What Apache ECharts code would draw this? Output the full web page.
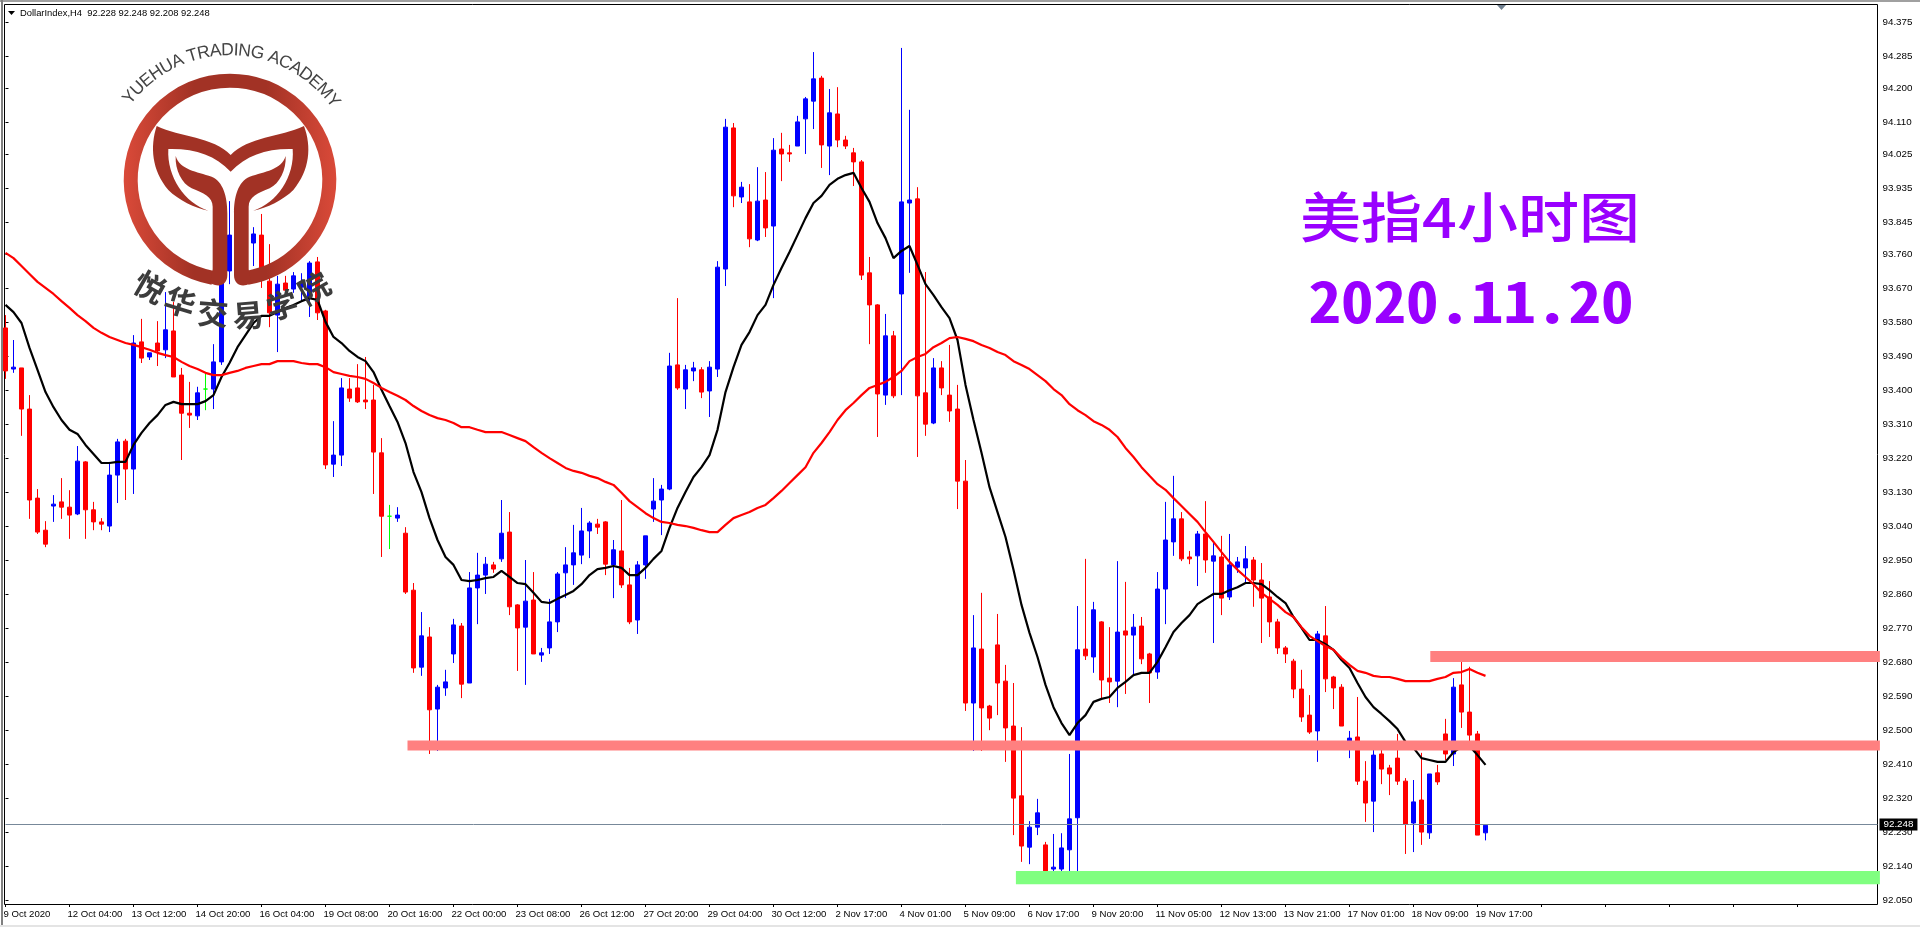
<!DOCTYPE html>
<html>
<head>
<meta charset="utf-8">
<title>DollarIndex H4</title>
<style>
html, body { margin: 0; padding: 0; background: #fff; }
#main { width: 1920px; height: 927px; }
</style>
<script src="https://cdn.jsdelivr.net/npm/echarts@6/dist/echarts.min.js"></script>
</head>
<body>
<div id="main"></div>
<script>
var tickLabels = ["9 Oct 2020", "12 Oct 04:00", "13 Oct 12:00", "14 Oct 20:00", "16 Oct 04:00", "19 Oct 08:00",
    "20 Oct 16:00", "22 Oct 00:00", "23 Oct 08:00", "26 Oct 12:00", "27 Oct 20:00", "29 Oct 04:00",
    "30 Oct 12:00", "2 Nov 17:00", "4 Nov 01:00", "5 Nov 09:00", "6 Nov 17:00", "9 Nov 20:00",
    "11 Nov 05:00", "12 Nov 13:00", "13 Nov 21:00", "17 Nov 01:00", "18 Nov 09:00", "19 Nov 17:00"];
var priceTicks = [94.375, 94.285, 94.200, 94.110, 94.025, 93.935, 93.845, 93.760, 93.670, 93.580, 93.490, 93.400,
    93.310, 93.220, 93.130, 93.040, 92.950, 92.860, 92.770, 92.680, 92.590, 92.500, 92.410, 92.320, 92.230,
    92.140, 92.050];

var opens = [93.566,93.457,93.460,93.351,93.115,93.030,93.094,93.105,93.091,93.073,
    93.211,93.084,93.052,93.041,93.176,93.266,93.192,93.529,93.489,93.526,
    93.508,93.558,93.441,93.340,93.333,93.404,93.404,93.476,93.717,93.812,
    93.757,93.791,93.812,93.690,93.600,93.685,93.669,93.674,93.645,93.741,
    93.611,93.205,93.229,93.404,93.407,93.375,93.375,93.235,93.067,93.062,
    93.022,92.871,92.667,92.747,92.556,92.612,92.702,92.776,92.625,92.877,
    92.911,92.938,92.954,93.025,92.832,92.773,92.845,92.699,92.718,92.787,
    92.917,92.938,92.964,93.028,93.046,93.052,92.938,92.975,92.885,92.792,
    92.938,93.086,93.110,93.139,93.468,93.404,93.452,93.455,93.399,93.457,
    93.722,94.096,93.913,93.900,93.799,93.905,93.836,94.040,94.030,94.048,
    94.120,94.167,94.228,94.048,94.133,94.064,94.030,94.006,93.712,93.627,
    93.388,93.545,93.656,93.897,93.908,93.394,93.314,93.460,93.388,93.351,
    93.160,92.572,92.715,92.564,92.726,92.630,92.511,92.326,92.190,92.243,
    92.196,92.132,92.132,92.183,92.268,92.715,92.694,92.787,92.638,92.630,
    92.763,92.752,92.776,92.702,92.654,92.874,92.999,93.060,92.959,92.962,
    93.020,92.948,92.959,92.853,92.932,92.930,92.951,92.898,92.853,92.787,
    92.718,92.683,92.609,92.540,92.498,92.750,92.641,92.614,92.450,92.482,
    92.365,92.312,92.437,92.400,92.426,92.365,92.254,92.315,92.228,92.387,
    92.490,92.437,92.620,92.548,92.490,92.228];
var closes = [93.452,93.462,93.351,93.110,93.025,92.993,93.099,93.091,93.070,93.213,
    93.084,93.052,93.046,93.176,93.264,93.192,93.526,93.486,93.500,93.505,
    93.561,93.436,93.340,93.335,93.394,93.404,93.476,93.714,93.812,93.772,
    93.804,93.815,93.698,93.606,93.682,93.666,93.704,93.688,93.738,93.606,
    93.203,93.229,93.407,93.380,93.370,93.370,93.237,93.067,93.067,93.070,
    92.866,92.665,92.750,92.554,92.614,92.628,92.779,92.622,92.877,92.911,
    92.940,92.927,93.022,92.827,92.771,92.842,92.702,92.705,92.787,92.914,
    92.938,92.970,93.028,93.049,93.038,92.940,92.978,92.885,92.787,92.938,
    93.015,93.107,93.139,93.465,93.407,93.455,93.460,93.396,93.462,93.727,
    94.098,93.916,93.939,93.802,93.902,93.831,94.037,94.027,94.027,94.112,
    94.173,94.226,94.051,94.136,94.064,94.048,94.006,93.706,93.627,93.391,
    93.545,93.386,93.900,93.905,93.386,93.311,93.460,93.407,93.346,93.160,
    92.572,92.718,92.559,92.532,92.625,92.506,92.320,92.193,92.243,92.281,
    92.127,92.137,92.188,92.265,92.713,92.697,92.819,92.633,92.628,92.760,
    92.752,92.773,92.689,92.652,92.874,93.004,93.060,92.954,92.954,93.020,
    92.951,92.962,92.850,92.938,92.946,92.954,92.898,92.850,92.787,92.718,
    92.702,92.609,92.535,92.495,92.755,92.636,92.612,92.511,92.479,92.365,
    92.307,92.434,92.397,92.384,92.365,92.251,92.310,92.230,92.384,92.363,
    92.437,92.614,92.548,92.487,92.222,92.248];
var highs = [93.600,93.534,93.460,93.388,93.139,93.054,93.123,93.168,93.136,93.253,
    93.213,93.105,93.062,93.211,93.272,93.272,93.547,93.590,93.500,93.584,
    93.661,93.635,93.460,93.423,93.410,93.447,93.523,93.725,93.902,93.839,
    93.831,93.833,93.868,93.788,93.704,93.704,93.714,93.711,93.743,93.754,
    93.614,93.319,93.433,93.433,93.470,93.489,93.415,93.274,93.097,93.091,
    93.038,92.890,92.813,92.773,92.620,92.660,92.795,92.784,92.919,92.970,
    92.959,92.946,93.110,93.078,92.834,92.951,92.919,92.718,92.848,92.919,
    92.985,93.044,93.089,93.054,93.060,93.054,93.004,93.110,92.930,92.948,
    93.015,93.168,93.150,93.500,93.645,93.468,93.476,93.462,93.478,93.743,
    94.120,94.109,93.953,93.947,93.992,93.979,94.069,94.083,94.051,94.128,
    94.178,94.297,94.234,94.199,94.204,94.075,94.043,94.011,93.754,93.629,
    93.603,93.558,94.308,94.144,93.939,93.714,93.486,93.478,93.521,93.415,
    93.216,92.805,92.864,92.567,92.808,92.673,92.625,92.508,92.259,92.318,
    92.204,92.225,92.227,92.437,92.829,92.954,92.840,92.789,92.773,92.948,
    92.893,92.808,92.800,92.705,92.919,93.105,93.174,93.078,92.975,93.028,
    93.107,92.999,93.015,93.020,92.959,92.988,92.959,92.943,92.895,92.795,
    92.723,92.689,92.660,92.593,92.763,92.829,92.644,92.622,92.498,92.588,
    92.418,92.453,92.469,92.408,92.490,92.373,92.368,92.440,92.384,92.408,
    92.530,92.638,92.705,92.668,92.498,92.248];
var lows = [93.431,93.447,93.280,93.060,93.020,92.985,93.052,93.060,93.007,93.070,
    93.007,93.030,93.030,93.025,93.102,93.110,93.126,93.473,93.481,93.465,
    93.486,93.436,93.216,93.301,93.322,93.348,93.351,93.468,93.682,93.741,
    93.720,93.730,93.672,93.568,93.502,93.648,93.659,93.640,93.595,93.587,
    93.192,93.171,93.200,93.370,93.367,93.351,93.126,92.959,92.980,93.052,
    92.861,92.652,92.644,92.437,92.445,92.591,92.678,92.585,92.625,92.781,
    92.861,92.917,92.946,92.805,92.657,92.620,92.702,92.681,92.702,92.760,
    92.850,92.885,92.940,92.956,93.020,92.911,92.850,92.877,92.781,92.755,
    92.901,93.052,93.017,93.136,93.402,93.351,93.425,93.380,93.330,93.436,
    93.677,93.886,93.897,93.780,93.796,93.807,93.645,93.955,94.006,94.048,
    94.027,94.093,93.990,93.971,94.045,94.040,93.942,93.693,93.523,93.277,
    93.362,93.380,93.388,93.712,93.224,93.280,93.311,93.388,93.317,93.086,
    92.551,92.445,92.445,92.500,92.540,92.416,92.222,92.151,92.145,92.222,
    92.114,92.098,92.114,92.127,92.122,92.686,92.652,92.580,92.572,92.561,
    92.596,92.646,92.675,92.572,92.636,92.781,92.962,92.948,92.940,92.882,
    92.917,92.731,92.805,92.845,92.917,92.890,92.827,92.731,92.747,92.702,
    92.678,92.585,92.522,92.490,92.416,92.601,92.556,92.511,92.426,92.355,
    92.257,92.230,92.357,92.328,92.355,92.172,92.177,92.196,92.212,92.355,
    92.421,92.405,92.506,92.455,92.222,92.208];
// 黑线 快均线
var fastMa = [93.627,93.608,93.579,93.513,93.455,93.396,93.356,93.322,93.296,93.285,
    93.256,93.232,93.208,93.208,93.211,93.211,93.256,93.288,93.314,93.335,
    93.362,93.370,93.364,93.364,93.364,93.372,93.388,93.436,93.473,93.515,
    93.547,93.579,93.598,93.598,93.608,93.619,93.627,93.637,93.645,93.640,
    93.582,93.542,93.526,93.505,93.489,93.478,93.449,93.402,93.359,93.317,
    93.261,93.184,93.131,93.062,93.004,92.959,92.938,92.898,92.895,92.898,
    92.903,92.906,92.922,92.906,92.890,92.887,92.864,92.840,92.837,92.848,
    92.858,92.869,92.887,92.911,92.927,92.930,92.935,92.930,92.911,92.911,
    92.930,92.954,92.975,93.036,93.089,93.131,93.171,93.197,93.229,93.296,
    93.396,93.462,93.521,93.555,93.600,93.627,93.680,93.725,93.767,93.812,
    93.857,93.897,93.916,93.945,93.961,93.971,93.977,93.937,93.900,93.844,
    93.804,93.751,93.770,93.783,93.733,93.682,93.653,93.621,93.592,93.534,
    93.415,93.322,93.235,93.144,93.078,93.012,92.925,92.832,92.758,92.694,
    92.620,92.561,92.519,92.487,92.519,92.540,92.575,92.583,92.588,92.612,
    92.628,92.646,92.652,92.652,92.681,92.720,92.760,92.784,92.805,92.834,
    92.848,92.861,92.861,92.871,92.879,92.890,92.890,92.887,92.871,92.853,
    92.837,92.800,92.771,92.739,92.739,92.728,92.713,92.686,92.665,92.625,
    92.588,92.561,92.543,92.524,92.503,92.469,92.453,92.426,92.421,92.416,
    92.416,92.442,92.455,92.458,92.434,92.408];
// 红线 慢均线
var slowMa = [93.765,93.751,93.730,93.709,93.688,93.672,93.656,93.637,93.619,93.600,
    93.584,93.566,93.553,93.542,93.534,93.526,93.521,93.515,93.508,93.500,
    93.494,93.489,93.476,93.465,93.457,93.447,93.441,93.441,93.447,93.452,
    93.460,93.465,93.470,93.470,93.478,93.478,93.478,93.473,93.470,93.470,
    93.462,93.449,93.444,93.439,93.436,93.431,93.420,93.407,93.396,93.386,
    93.375,93.359,93.346,93.335,93.327,93.322,93.314,93.303,93.303,93.296,
    93.290,93.290,93.290,93.282,93.274,93.266,93.250,93.235,93.221,93.208,
    93.195,93.187,93.182,93.174,93.168,93.158,93.150,93.129,93.107,93.091,
    93.075,93.062,93.052,93.049,93.044,93.041,93.036,93.030,93.025,93.025,
    93.044,93.062,93.070,93.078,93.089,93.097,93.115,93.134,93.155,93.176,
    93.197,93.235,93.261,93.290,93.322,93.348,93.367,93.388,93.407,93.415,
    93.423,93.436,93.452,93.478,93.489,93.497,93.515,93.526,93.539,93.542,
    93.537,93.531,93.521,93.513,93.502,93.494,93.478,93.468,93.457,93.441,
    93.425,93.404,93.388,93.364,93.348,93.335,93.319,93.309,93.296,93.277,
    93.248,93.224,93.197,93.174,93.152,93.137,93.115,93.094,93.073,93.052,
    93.025,92.999,92.972,92.946,92.925,92.906,92.887,92.864,92.848,92.832,
    92.813,92.800,92.773,92.750,92.736,92.723,92.713,92.691,92.673,92.657,
    92.652,92.644,92.641,92.641,92.636,92.630,92.630,92.630,92.630,92.636,
    92.641,92.652,92.654,92.662,92.652,92.644];
// 画的支撑压力带: 起始K线, 结束K线, 上沿, 下沿
var zones = [[50.25, 234.3, 92.473, 92.446], [178.1, 234.3, 92.710, 92.681], [126.3, 234.3, 92.127, 92.092]];
var zoneColors = ["#ff8080", "#ff8080", "#80ff80"];
var lastPrice = 92.248;

var slotCount = 235; // 右边留白也算在类目里
var categories = [];
for (var i = 0; i < slotCount; i++) {
    categories.push(i % 8 === 0 && tickLabels[i / 8] ? tickLabels[i / 8] : "");
}
var candleData = opens.map(function (o, k) {
    return [o, closes[k], lows[k], highs[k]];
});

// logo 图形
var wingPath = "M470 378 C540 412 640 410 692 465 C745 410 840 412 912 378 C935 440 930 510 880 570 " +
    "C850 600 800 625 760 632 C830 610 885 530 878 447 C800 445 740 465 692 515 C645 465 585 445 505 447 " +
    "C500 530 555 610 625 632 C585 625 535 600 505 570 C455 510 450 440 470 378 Z";
var stemLeftPath = "M527 468 C540 510 590 515 635 530 C670 545 682 590 682 640 L682 825 C682 850 665 860 645 855 " +
    "L630 850 L638 808 L638 620 C638 590 610 580 575 565 C545 550 525 510 527 468 Z";
var stemRightPath = "M857 468 C844 510 794 515 749 530 C714 545 702 590 702 640 L702 825 C702 850 719 860 739 855 " +
    "L754 850 L746 808 L746 620 C746 590 774 580 809 565 C839 550 859 510 857 468 Z";
echarts.graphic.registerShape("logoWing", echarts.graphic.extendPath(wingPath));
echarts.graphic.registerShape("logoStemLeft", echarts.graphic.extendPath(stemLeftPath));
echarts.graphic.registerShape("logoStemRight", echarts.graphic.extendPath(stemRightPath));

var logoColor = "#a23225";
var logoCx = 230, logoCy = 180;

function arcLetters(text, font, radius, spanDeg, shiftDeg) {
    var ctx = document.createElement("canvas").getContext("2d");
    ctx.font = font;
    var total = ctx.measureText(text).width;
    var out = [];
    var run = 0;
    for (var n = 0; n < text.length; n++) {
        var w = ctx.measureText(text[n]).width;
        var mid = (run + w / 2) / total - 0.5;
        var theta = (mid * spanDeg + shiftDeg) * Math.PI / 180;
        out.push({
            type: "text",
            z: 10,
            x: logoCx + radius * Math.sin(theta),
            y: logoCy - radius * Math.cos(theta),
            rotation: -theta,
            style: { text: text[n], font: font, fill: "#444", align: "center", verticalAlign: "bottom" }
        });
        run += w;
    }
    return out;
}

var schoolChars = "悦华交易学院".split("");
var schoolX = [150, 180, 213, 248, 282, 314];
var schoolY = [287, 302, 313, 315, 305, 288];
var schoolRot = [-0.52, -0.3, -0.08, 0.08, 0.3, 0.52];
var schoolText = schoolChars.map(function (c, k) {
    return {
        type: "text", z: 11, x: schoolX[k], y: schoolY[k], rotation: schoolRot[k],
        style: { text: c, font: "bold 31px 'Noto Sans CJK SC'", fill: "#3c3c3c", align: "center", verticalAlign: "middle" }
    };
});

var chartDom = document.getElementById("main");
var myChart = echarts.init(chartDom, null, { renderer: "canvas" });

var axisFont = "Liberation Sans";
var option = {
    animation: false,
    backgroundColor: "#fff",
    grid: { left: 5.5, right: 42.5, top: 4, bottom: 23, show: false },
    xAxis: [
        {
            type: "category",
            data: categories,
            boundaryGap: false,
            axisLine: { show: false },
            axisTick: { show: true, interval: 7, length: 3, lineStyle: { color: "#000" } },
            axisLabel: {
                interval: 7, align: "left", color: "#000", fontSize: 9.6, fontFamily: axisFont, margin: 5,
                padding: [0, 0, 0, -2],
                showMinLabel: true, showMaxLabel: false, hideOverlap: false
            },
            splitLine: { show: false }
        },
        { type: "value", min: 0, max: 234, show: false }
    ],
    yAxis: {
        type: "value",
        position: "right",
        min: 92.0394,
        max: 94.4244,
        scale: true,
        axisLine: { show: false },
        axisTick: { show: true, length: 3, customValues: priceTicks, lineStyle: { color: "#000" } },
        axisLabel: {
            customValues: priceTicks, color: "#000", fontSize: 9.8, fontFamily: axisFont, margin: 5,
            formatter: function (v) { return v.toFixed(3); }
        },
        splitLine: { show: false }
    },
    series: [
        {
            type: "candlestick",
            data: candleData,
            barWidth: 5,
            z: 2,
            itemStyle: {
                color: "#0000ff", color0: "#ff0000",
                borderColor: "#0000ff", borderColor0: "#ff0000", borderColorDoji: "#00ff00",
                borderWidth: 1
            },
            markLine: {
                silent: true,
                symbol: "none",
                animation: false,
                lineStyle: { color: "#778899", width: 1, type: "solid" },
                label: {
                    show: true, position: "end", distance: 2,
                    formatter: function () { return lastPrice.toFixed(3); },
                    color: "#fff", backgroundColor: "#000", fontSize: 9.8, fontFamily: axisFont,
                    padding: [1, 4, 1, 4]
                },
                data: [{ yAxis: lastPrice }]
            }
        },
        {
            type: "line", data: fastMa, showSymbol: false, symbol: "none", z: 3,
            lineStyle: { color: "#000", width: 2.2 }
        },
        {
            type: "line", data: slowMa, showSymbol: false, symbol: "none", z: 3,
            lineStyle: { color: "#ff0000", width: 2.2 }
        },
        {
            type: "custom",
            xAxisIndex: 1,
            z: 4,
            data: zones,
            encode: { x: [0, 1], y: [2, 3] },
            clip: false,
            silent: true,
            renderItem: function (params, api) {
                var a = api.coord([api.value(0), api.value(2)]);
                var b = api.coord([api.value(1), api.value(3)]);
                return {
                    type: "rect",
                    shape: { x: a[0], y: a[1], width: b[0] - a[0], height: b[1] - a[1] },
                    style: { fill: zoneColors[params.dataIndex], blend: "multiply" }
                };
            }
        }
    ],
    graphic: {
        elements: [
            // 窗口边框和图框
            { type: "rect", z: 1, silent: true, shape: { x: 4.5, y: 4.5, width: 1873, height: 900 }, style: { fill: "none", stroke: "#000", lineWidth: 1 } },
            { type: "rect", z: 1, silent: true, shape: { x: 0, y: 0, width: 1920, height: 2 }, style: { fill: "#a0a0a0" } },
            { type: "rect", z: 1, silent: true, shape: { x: 1, y: 0, width: 2, height: 927 }, style: { fill: "#808080" } },
            { type: "rect", z: 1, silent: true, shape: { x: 0, y: 925, width: 1920, height: 2 }, style: { fill: "#e4e4e4" } },
            { type: "polygon", z: 6, silent: true, shape: { points: [[1497, 5], [1506, 5], [1501.5, 10]] }, style: { fill: "#708090" } },
            { type: "polygon", z: 6, silent: true, shape: { points: [[8, 11], [15, 11], [11.5, 15]] }, style: { fill: "#000" } },
            {
                type: "text", z: 6, x: 20, y: 13,
                style: { text: "DollarIndex,H4  92.228 92.248 92.208 92.248", font: "9.4px 'Liberation Sans'", fill: "#000", align: "left", verticalAlign: "middle" }
            },
            // logo
            {
                type: "arc", z: 10, silent: true,
                shape: { cx: logoCx, cy: logoCy, r: 99.3, startAngle: 100 * Math.PI / 180, endAngle: 440 * Math.PI / 180, clockwise: true },
                style: {
                    fill: "none", lineWidth: 14,
                    stroke: {
                        type: "linear", x: 0, y: 0, x2: 1, y2: 0,
                        colorStops: [
                            { offset: 0, color: "#da4a39" },
                            { offset: 0.33, color: logoColor },
                            { offset: 0.67, color: logoColor },
                            { offset: 1, color: "#da4a39" }
                        ]
                    }
                }
            },
            {
                type: "group", scaleX: 1 / 3, scaleY: 1 / 3, silent: true,
                children: [
                    { type: "logoWing", z: 10, style: { fill: logoColor } },
                    { type: "logoStemLeft", z: 10, style: { fill: logoColor } },
                    { type: "logoStemRight", z: 10, style: { fill: logoColor } }
                ]
            },
            { type: "group", silent: true, children: arcLetters("YUEHUA TRADING ACADEMY", "17.5px 'Liberation Sans'", 120.7, 108, 1) },
            { type: "group", silent: true, children: schoolText },
            // 标题
            {
                type: "text", z: 6, x: 1470, y: 217, scaleX: 1.13,
                style: { text: "美指4小时图", font: "500 54px 'Noto Sans CJK SC'", fill: "#9900ff", align: "center", verticalAlign: "middle" }
            },
            {
                type: "text", z: 6, x: 1471, y: 301, scaleY: 0.88,
                style: { text: "2020.11.20", font: "bold 65px 'Noto Sans Mono CJK SC', 'DejaVu Sans Mono'", fill: "#9900ff", align: "center", verticalAlign: "middle" }
            }
        ]
    }
};
myChart.setOption(option);
</script>
</body>
</html>
